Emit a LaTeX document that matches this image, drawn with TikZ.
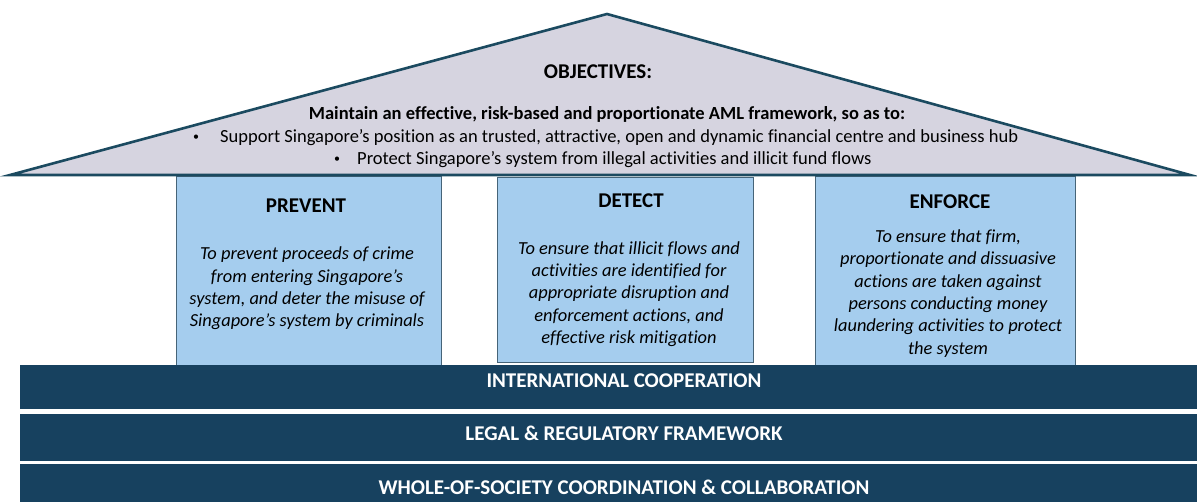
\documentclass[tikz,border=0pt]{standalone}
\usepackage{fontspec}
\setmainfont{Carlito}[Ligatures=NoCommon]
\definecolor{roofFill}{RGB}{214,212,224}
\definecolor{roofLine}{RGB}{27,74,96}
\definecolor{pillarFill}{RGB}{165,205,238}
\definecolor{pillarLine}{RGB}{70,100,120}
\definecolor{bandFill}{RGB}{23,65,95}
\begin{document}
\begin{tikzpicture}[x=1pt,y=-1pt,
  pillarbox/.style={draw=pillarLine, line width=0.8pt, fill=pillarFill, anchor=north west, inner sep=0pt},
  bandbox/.style={fill=bandFill, anchor=north west, inner sep=0pt, minimum width=1177pt},
  bandtext/.style={text=white, font=\fontsize{21}{24}\selectfont\bfseries},
  headtext/.style={font=\fontsize{21}{24}\selectfont\bfseries},
  desctext/.style={font=\fontsize{18.4}{22.3}\selectfont\itshape, align=center},
  rooftext/.style={font=\fontsize{18.5}{22}\selectfont}]
\useasboundingbox (0,0) rectangle (1197,502);
\fill[white] (0,0) rectangle (1197,502);
% pillars
\node[pillarbox, minimum width=265pt, minimum height=189pt] (prevent) at (176,176) {};
\node[pillarbox, minimum width=256pt, minimum height=185pt] (detect) at (497,177) {};
\node[pillarbox, minimum width=260pt, minimum height=189pt] (enforce) at (815,176) {};
% roof
\draw[fill=roofFill, draw=roofLine, line width=2.6pt, line join=miter] (10,175) coordinate (rl) -- (607,14) coordinate (apex) -- (1190,175) coordinate (rr) -- cycle;
\node[font=\fontsize{21}{24}\selectfont\bfseries] (obj) at (598,72) {OBJECTIVES:};
\node[font=\fontsize{18.5}{22}\selectfont\bfseries] (maintain) at (607,114) {Maintain an effective, risk-based and proportionate AML framework, so as to:};
\node[rooftext, font=\fontsize{12}{14}\selectfont] (dot1) at (196,138) {•};
\node[rooftext, anchor=west, inner sep=0pt] (b1) at (220,138) {Support Singapore’s position as an trusted, attractive, open and dynamic financial centre and business hub};
\node[rooftext, font=\fontsize{12}{14}\selectfont] (dot2) at (337,160) {•};
\node[rooftext, anchor=west, inner sep=0pt] (b2) at (357,160) {Protect Singapore’s system from illegal activities and illicit fund flows};
% pillar texts
\node[headtext] (ph) at (306,206) {PREVENT};
\node[desctext] (pd) at (307,288.5) {To prevent proceeds of crime\\from entering Singapore’s\\system, and deter the misuse of\\Singapore’s system by criminals};
\node[headtext] (dh) at (631,201) {DETECT};
\node[desctext] (dd) at (629,294) {To ensure that illicit flows and\\activities are identified for\\appropriate disruption and\\enforcement actions, and\\effective risk mitigation};
\node[headtext] (eh) at (950,202) {ENFORCE};
\node[desctext] (ed) at (948,293.5) {To ensure that firm,\\proportionate and dissuasive\\actions are taken against\\persons conducting money\\laundering activities to protect\\the system};
% bands
\node[bandbox, minimum height=44pt] (band1) at (20,365) {};
\node[bandbox, minimum height=47pt] (band2) at (20,414) {};
\node[bandbox, minimum height=48pt] (band3) at (20,464) {};
\node[bandtext] (t1) at (624,381) {INTERNATIONAL COOPERATION};
\node[bandtext] (t2) at (624,433) {LEGAL \& REGULATORY FRAMEWORK};
\node[bandtext] (t3) at (624,487) {WHOLE-OF-SOCIETY COORDINATION \& COLLABORATION};
\end{tikzpicture}
\end{document}
